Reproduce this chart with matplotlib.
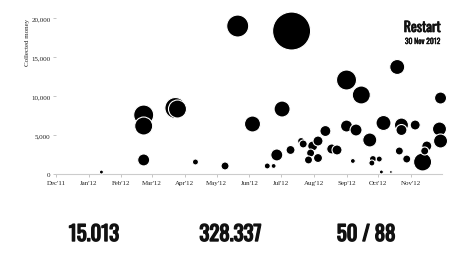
import os
import matplotlib
matplotlib.use("Agg")
import matplotlib.pyplot as plt
import matplotlib.dates as mdates
import matplotlib.patheffects as pe
from matplotlib import font_manager as fm
import numpy as np
from datetime import datetime

# ---- data ----
dates = ["2012-01-13", "2012-02-22", "2012-02-22", "2012-02-22", "2012-03-23", "2012-03-25",
         "2012-04-11", "2012-05-09", "2012-05-21", "2012-07-11", "2012-06-04", "2012-07-02",
         "2012-06-18", "2012-06-24", "2012-06-27", "2012-07-10", "2012-07-20", "2012-07-22",
         "2012-07-31", "2012-08-05", "2012-08-12", "2012-07-29", "2012-07-27", "2012-08-05",
         "2012-08-18", "2012-08-23", "2012-09-01", "2012-09-15", "2012-09-01", "2012-09-10",
         "2012-09-07", "2012-09-23", "2012-09-26", "2012-09-25", "2012-10-02", "2012-10-04",
         "2012-10-13", "2012-10-06", "2012-10-19", "2012-10-23", "2012-10-23", "2012-11-05",
         "2012-10-21", "2012-10-28", "2012-11-12", "2012-11-16", "2012-11-14", "2012-11-29",
         "2012-11-28", "2012-11-29"]
money = [250, 7560, 6150, 1800, 8460, 8330,
         1540, 1030, 18970, 18330, 6410, 8330,
         1030, 1030, 2440, 3080, 4230, 3850,
         3590, 4230, 5510, 2690, 1800, 2050,
         3210, 3080, 12050, 10130, 6150, 5640,
         1670, 4360, 1920, 1410, 1920, 260,
         260, 6540, 13720, 6280, 5640, 6280,
         2950, 1920, 1540, 3590, 2950, 9740,
         5770, 4230]
backers = [4, 100, 81, 36, 110, 81,
           9, 16, 121, 361, 64, 64,
           9, 6, 36, 20, 12, 16,
           25, 25, 30, 16, 16, 20,
           25, 25, 100, 81, 36, 36,
           6, 49, 12, 9, 9, 4,
           2, 56, 56, 49, 30, 25,
           16, 16, 81, 25, 16, 36,
           49, 49]
yticks = [0, 5000, 10000, 15000, 20000]
stats = ["15.013", "328.337", "50 / 88"]
title = "Restart"
subtitle = "30 Nov 2012"


# ---- pick the most condensed bold font installed ----
def find_condensed():
    prefs = ["oswald", "leaguegothic", "bebas", "extracondensedbold", "condensedbold",
             "semicondensedbold", "narrowbold", "condensed"]
    files = []
    for f in fm.fontManager.ttflist:
        base = os.path.basename(f.fname).lower().replace("-", "").replace("_", "").replace(" ", "")
        files.append((base, f.fname))
    for p in prefs:
        for base, path in sorted(files):
            if p in base and "italic" not in base and "oblique" not in base:
                return fm.FontProperties(fname=path)
    return fm.FontProperties(family="DejaVu Sans", weight="bold")


cond = find_condensed()

# ---- figure ----
W, H, DPI = 459, 255, 100
fig = plt.figure(figsize=(W / DPI, H / DPI), dpi=DPI)
ax = fig.add_axes([56 / W, 1 - 175 / H, (441.6 - 56) / W, (175 - 19) / H])

x = mdates.date2num([datetime.strptime(d, "%Y-%m-%d") for d in dates])
px2pt = 72 / DPI
sizes = [(2 * np.sqrt(b) * px2pt) ** 2 for b in backers]
ax.scatter(x, money, s=sizes, c="black", edgecolors="white", linewidths=0.8,
           clip_on=False, zorder=3)

ax.set_xlim(mdates.date2num(datetime(2011, 12, 1)), mdates.date2num(datetime(2012, 11, 30)))
ax.set_ylim(0, 20000)

months = [datetime(2011, 12, 1)] + [datetime(2012, m, 1) for m in range(1, 12)]
ax.set_xticks(mdates.date2num(months))
ax.xaxis.set_major_formatter(mdates.DateFormatter("%b'%y"))
ax.set_yticks(yticks)
ax.set_yticklabels([f"{v:,}" for v in yticks])

serif = ["Liberation Serif", "DejaVu Serif"]
for lab in ax.get_xticklabels() + ax.get_yticklabels():
    lab.set_fontfamily(serif)
    lab.set_fontsize(5)
    lab.set_color("#222222")

ax.tick_params(axis="x", length=2.5, width=0.6, color="#bbbbbb", pad=1.5)
ax.tick_params(axis="y", length=2.5, width=0.6, color="#bbbbbb", pad=1.5)
for s in ["top", "right", "left"]:
    ax.spines[s].set_visible(False)
ax.spines["bottom"].set_color("#cccccc")
ax.spines["bottom"].set_linewidth(0.8)

ax.set_ylabel("Collected money", fontfamily=serif, fontsize=5, loc="top",
              color="#222222", labelpad=1)


def ctext(xp, yp, s, size, ha, stroke):
    fp = cond.copy()
    fp.set_size(size)
    fig.text(xp / W, 1 - yp / H, s, ha=ha, va="baseline", fontproperties=fp,
             color="#111111",
             path_effects=[pe.withStroke(linewidth=stroke, foreground="#111111")])


ctext(440.5, 33, title, 10, "right", 0.5)
ctext(440.5, 45, subtitle, 5.5, "right", 0.3)
for cx, t in zip([94, 230.5, 366], stats):
    ctext(cx, 242, t, 15, "center", 1.0)

fig.savefig("out.png", dpi=DPI)
